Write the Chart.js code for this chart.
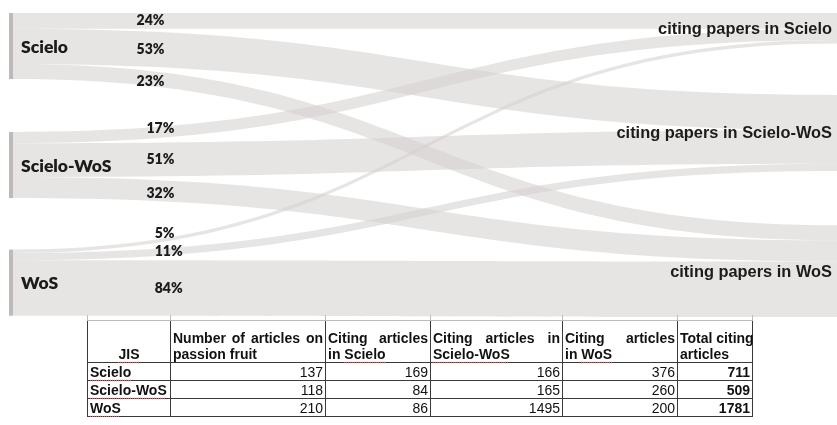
<!DOCTYPE html>
<html>
<head>
<meta charset="utf-8">
<script src="https://cdn.jsdelivr.net/npm/chart.js@4.4.0/dist/chart.umd.min.js"></script>
<style>
  body { margin: 0; background: #fff; width: 837px; height: 425px; overflow: hidden; position: relative;
         font-family: "Liberation Sans", Arial, sans-serif; }
  #wrap { position: absolute; left: 0; top: 0; width: 837px; height: 318px; }
  table { position: absolute; left: 87px; top: 315px; border-collapse: collapse; table-layout: fixed;
          width: 665px; font-size: 14px; color: #111; }
  td, th { border: 1px solid #3a3a3a; padding: 0 2px; line-height: 16px; height: 17px; overflow: visible; }
  tr.gap td { height: 5px; line-height: 5px; border-top: none; border-color: #bbb; padding: 0; }
  th { font-weight: bold; text-align: left; vertical-align: bottom; height: 41px; }
  th.c { text-align: center; }
  th .j { display: block; white-space: nowrap; text-align: justify; text-align-last: justify; }
  td.lab { font-weight: bold; }
  td.num { text-align: right; }
  td.tot { text-align: right; font-weight: bold; }
  .sp { text-decoration: underline dotted #e06060; text-underline-offset: 3px; }
</style>
</head>
<body>
<div id="wrap"><canvas id="sankey" width="837" height="318"></canvas></div>
<table id="tbl"></table>
<script>
// ---- data ----
const sources = ['Scielo', 'Scielo-WoS', 'WoS'];
const targets = ['citing papers in Scielo', 'citing papers in Scielo-WoS', 'citing papers in WoS'];
// flows listed top to bottom as they leave each source
const flowFrom = [0, 0, 0, 1, 1, 1, 2, 2, 2];
const flowTo   = [0, 1, 2, 0, 1, 2, 0, 1, 2];
const flowPct  = [24, 53, 23, 17, 51, 32, 5, 11, 84];

const tableRows       = ['Scielo', 'Scielo-WoS', 'WoS'];
const articles        = [137, 118, 210];
const citingScielo    = [169, 84, 86];
const citingScieloWoS = [166, 165, 1495];
const citingWoS       = [376, 260, 200];
const totalCiting     = [711, 509, 1781];

// ---- layout (units of the y scale, one source node = 100) ----
const Y_MAX = 460;
const leftTop  = [0, 180, 358];
const rightTop = [0, 124, 321];
const pctLabelX = [0.150, 0.162, 0.172];          // x scale value per source
const pctNudge  = [0, 1, 4, -5, 0, 3, -8, -1, 1];  // px

const BAND = 'rgba(212,207,205,0.55)';
const NODE = '#bdbab9';
const INK  = '#1b1b1b';

/** y fraction of an S-shaped band at horizontal fraction f */
function sCurve(f) {
  let lo = 0, hi = 1;
  for (let k = 0; k < 30; k++) {
    const t = (lo + hi) / 2;
    const xf = 1.5 * t * (1 - t) + t * t * t;
    if (xf < f) lo = t; else hi = t;
  }
  const t = (lo + hi) / 2;
  return 3 * t * t - 2 * t * t * t;
}

const sankeyPlugin = {
  id: 'sankey',
  afterDatasetsDraw(chart) {
    const { ctx, scales: { x, y } } = chart;
    const x0 = x.getPixelForValue(0), x1 = x.getPixelForValue(1), xm = (x0 + x1) / 2;
    const leftOff = leftTop.slice(), rightOff = rightTop.slice();
    const bands = [];

    ctx.save();
    flowPct.forEach((p, i) => {
      const s = flowFrom[i], t = flowTo[i];
      const a0 = y.getPixelForValue(leftOff[s]), a1 = y.getPixelForValue(leftOff[s] + p);
      const b0 = y.getPixelForValue(rightOff[t]), b1 = y.getPixelForValue(rightOff[t] + p);
      leftOff[s] += p; rightOff[t] += p;
      bands.push({ a: (a0 + a1) / 2, b: (b0 + b1) / 2 });

      ctx.beginPath();
      ctx.moveTo(x0, a0);
      ctx.bezierCurveTo(xm, a0, xm, b0, x1, b0);
      ctx.lineTo(x1, b1);
      ctx.bezierCurveTo(xm, b1, xm, a1, x0, a1);
      ctx.closePath();
      ctx.fillStyle = BAND;
      ctx.fill();
    });

    // source node bars + names
    sources.forEach((name, s) => {
      const top = y.getPixelForValue(leftTop[s]), bot = y.getPixelForValue(leftTop[s] + 100);
      ctx.fillStyle = NODE;
      ctx.fillRect(x0 - 4, top, 4, bot - top);
      ctx.fillStyle = INK;
      ctx.font = '800 17.5px Lato, "Open Sans", sans-serif';
      ctx.textAlign = 'left';
      ctx.textBaseline = 'middle';
      ctx.fillText(name, x0 + 8, (top + bot) / 2 + 1);
    });

    // target names
    ctx.font = 'bold 16.4px "Liberation Sans", Arial, sans-serif';
    ctx.textAlign = 'right';
    targets.forEach((name, t) => {
      const top = y.getPixelForValue(rightTop[t]), bot = y.getPixelForValue(rightOff[t]);
      ctx.fillText(name, x1 - 5, (top + bot) / 2 + 1);
    });

    // percentages near the start of each band
    ctx.font = '800 14px Lato, "Open Sans", sans-serif';
    ctx.textAlign = 'left';
    flowPct.forEach((p, i) => {
      const lx = pctLabelX[flowFrom[i]];
      const bd = bands[i];
      const ly = bd.a + (bd.b - bd.a) * sCurve(lx) + pctNudge[i];
      ctx.fillText(p + '%', x.getPixelForValue(lx), ly);
    });
    ctx.restore();
  },
};

new Chart(document.getElementById('sankey'), {
  type: 'scatter',
  data: { datasets: [] },
  options: {
    responsive: false,
    animation: false,
    layout: { padding: { left: 13, right: 0, top: 13, bottom: 1 } },
    plugins: { legend: { display: false }, tooltip: { enabled: false } },
    scales: {
      x: { type: 'linear', min: 0, max: 1, display: false },
      y: { type: 'linear', min: 0, max: Y_MAX, reverse: true, display: false },
    },
  },
  plugins: [sankeyPlugin],
});

// ---- table ----
const colW = [83, 155, 105, 132, 115, 75];
const sp = s => '<span class="sp">' + s + '</span>';
let html = '<colgroup>' + colW.map(w => '<col style="width:' + w + 'px">').join('') + '</colgroup>';
html += '<tr class="gap">' + colW.map(() => '<td></td>').join('') + '</tr>';
html += '<tr><th class="c">' + sp('JIS') + '</th>'
  + '<th><span class="j">Number of articles on</span>passion fruit</th>'
  + '<th><span class="j">Citing articles</span>in ' + sp('Scielo') + '</th>'
  + '<th><span class="j">Citing articles in</span>' + sp('Scielo-WoS') + '</th>'
  + '<th><span class="j">Citing articles</span>in ' + sp('WoS') + '</th>'
  + '<th><span class="j">Total citing</span>articles</th></tr>';
tableRows.forEach((r, i) => {
  html += '<tr><td class="lab">' + sp(r) + '</td>'
    + '<td class="num">' + articles[i] + '</td>'
    + '<td class="num">' + citingScielo[i] + '</td>'
    + '<td class="num">' + citingScieloWoS[i] + '</td>'
    + '<td class="num">' + citingWoS[i] + '</td>'
    + '<td class="tot">' + totalCiting[i] + '</td></tr>';
});
document.getElementById('tbl').innerHTML = html;
</script>
</body>
</html>
